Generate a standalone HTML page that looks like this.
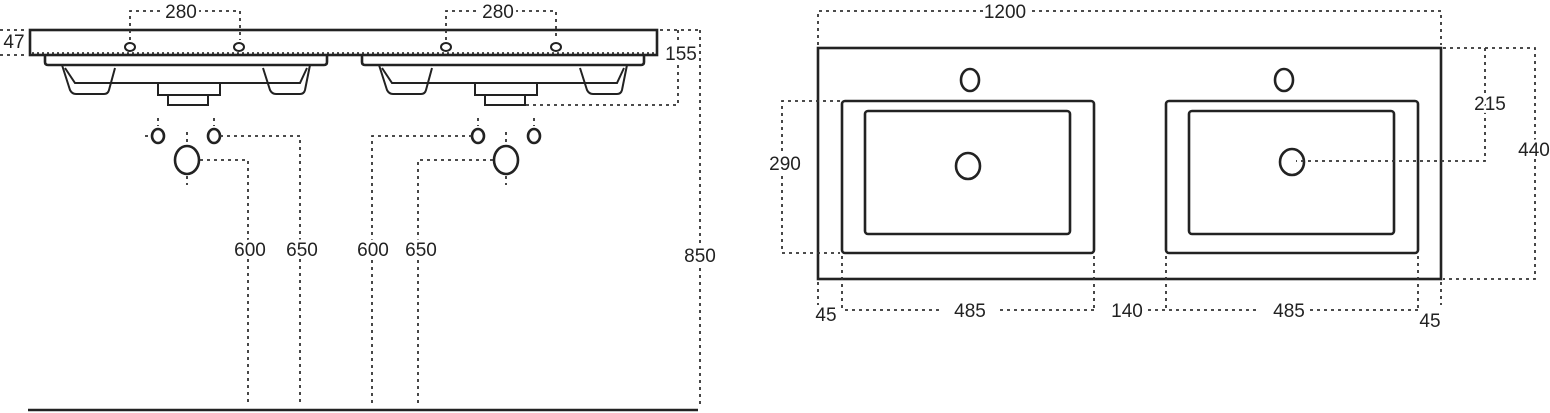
<!DOCTYPE html>
<html><head><meta charset="utf-8"><style>
html,body{margin:0;padding:0;background:#fff;width:1550px;height:413px;overflow:hidden}
svg{display:block}
text{font-family:"Liberation Sans",sans-serif;font-size:19px;fill:#222;text-anchor:middle;stroke:#fff;stroke-width:6px;paint-order:stroke;stroke-linejoin:round}
.s{fill:none;stroke:#222;stroke-width:2.6}
.t{fill:none;stroke:#222;stroke-width:2}
.d{fill:none;stroke:#333;stroke-width:1.8;stroke-dasharray:3 4}
</style></head><body>
<svg width="1550" height="413" viewBox="0 0 1550 413">
<defs>
<g id="bas">
  <path class="s" d="M45 55 V62 Q45 65 48 65 H324 Q327 65 327 62 V55"/>
  <path class="t" d="M62 65 L70 90 Q72 94 76 94 H104 Q108 94 109 90 L115 68"/>
  <path class="t" d="M65 68 L75 83 H300 L307 68"/>
  <path class="t" d="M263 68 L270 90 Q272 94 276 94 H300 Q304 94 305 90 L310 65"/>
  <path class="t" d="M158 83 V95 H220 V83"/>
  <path class="t" d="M168 95 V105 H208 V95"/>
</g>
<g id="pipe">
  <ellipse class="s" cx="0" cy="0" rx="6" ry="7"/>
</g>
</defs>
<!-- LEFT VIEW -->
<rect class="s" x="30" y="30" width="627" height="25"/>
<path d="M32 53 H655" stroke="#222" stroke-width="1.5" stroke-dasharray="2 3"/>
<use href="#bas"/>
<use href="#bas" x="317"/>
<ellipse class="t" cx="130" cy="47" rx="5" ry="4"/><ellipse class="t" cx="239" cy="47" rx="5" ry="4"/>
<ellipse class="t" cx="446" cy="47" rx="5" ry="4"/><ellipse class="t" cx="556" cy="47" rx="5" ry="4"/>
<path class="d" d="M130 40 V11 H164 M198 11 H240 V40"/>
<text x="181" y="18">280</text>
<path class="d" d="M446 40 V11 H480 M515 11 H556 V40"/>
<text x="498" y="18">280</text>
<path class="d" d="M0 30 H28 M0 55 H28"/>
<text x="14" y="48">47</text>
<path class="d" d="M660 30 H700 M678 30 V105 H525 M700 30 V405"/>
<text x="681" y="60">155</text>
<text x="700" y="262">850</text>
<line x1="28" y1="410" x2="698" y2="410" stroke="#222" stroke-width="2.5"/>
<use href="#pipe" x="158" y="136"/><use href="#pipe" x="214" y="136"/>
<ellipse class="s" cx="187" cy="160" rx="12" ry="14"/>
<use href="#pipe" x="478" y="136"/><use href="#pipe" x="534" y="136"/>
<ellipse class="s" cx="506" cy="160" rx="12" ry="14"/>
<path class="d" d="M220 136 H300 V405 M200 160 H248 V405"/>
<path class="d" d="M472 136 H372 V405 M493 160 H418 V405"/>
<path class="d" d="M158 118 V126 M214 118 V126 M145 136 H152 M187 132 V146 M187 176 V185 M478 118 V126 M534 118 V126 M506 132 V146 M506 176 V185"/>
<text x="250" y="256">600</text><text x="302" y="256">650</text>
<text x="373" y="256">600</text><text x="421" y="256">650</text>
<!-- RIGHT VIEW -->
<rect class="s" x="818" y="48" width="623" height="231"/>
<rect class="s" x="842" y="101" width="252" height="152" rx="3"/>
<rect class="s" x="865" y="111" width="205" height="123" rx="3"/>
<rect class="s" x="1166" y="101" width="252" height="152" rx="3"/>
<rect class="s" x="1189" y="111" width="205" height="123" rx="3"/>
<ellipse class="s" cx="970" cy="80" rx="9" ry="11"/>
<ellipse class="s" cx="1284" cy="80" rx="9" ry="11"/>
<ellipse class="s" cx="968" cy="166" rx="12" ry="13"/>
<ellipse class="s" cx="1292" cy="162" rx="12" ry="13"/>
<path class="d" d="M818 45 V11 H985 M1025 11 H1441 V45"/>
<text x="1005" y="18">1200</text>
<path class="d" d="M1443 48 H1535 V279 H1443 M1485 48 V161 H1296"/>
<text x="1490" y="110">215</text>
<text x="1534" y="156">440</text>
<path class="d" d="M840 101 H782 V253 H840"/>
<text x="785" y="170">290</text>
<path class="d" d="M818 282 V305 M842 256 V310 M1094 256 V310 M1166 256 V310 M1418 256 V310 M1441 282 V305"/>
<path class="d" d="M845 310 H940 M1000 310 H1095 M1148 310 H1260 M1310 310 H1418"/>
<text x="826" y="321">45</text>
<text x="970" y="317">485</text>
<text x="1127" y="317">140</text>
<text x="1289" y="317">485</text>
<text x="1430" y="327">45</text>
</svg>
</body></html>
